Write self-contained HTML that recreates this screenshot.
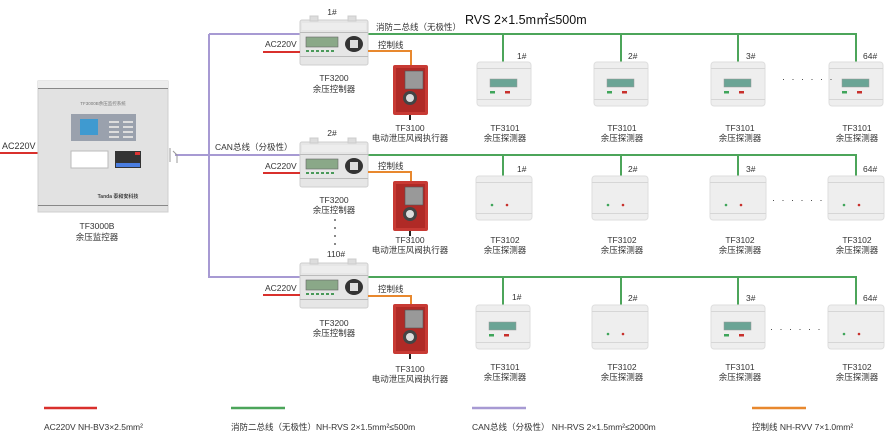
<!DOCTYPE html>
<html><head><meta charset="utf-8"><style>
html,body{margin:0;padding:0;background:#fff;}
svg{display:block;font-family:"Liberation Sans","Noto Sans CJK SC",sans-serif;}
.t{font-size:8.5px;fill:#333;}
.c{text-anchor:middle;}
</style></head><body>
<svg width="887" height="441" viewBox="0 0 887 441" xmlns="http://www.w3.org/2000/svg">
<defs>
<g id="ctrl">
 <rect x="0" y="0" width="68" height="45" rx="2" fill="#e6e6e6" stroke="#cfcfcf"/>
 <rect x="10" y="-4" width="8" height="5" fill="#ddd" stroke="#ccc"/>
 <rect x="48" y="-4" width="8" height="5" fill="#ddd" stroke="#ccc"/>
 <rect x="2" y="3" width="64" height="7" fill="#ededed"/>
 <rect x="0" y="12" width="68" height="1" fill="#bbb"/>
 <rect x="6" y="17" width="32" height="10" fill="#8aa888" stroke="#666" stroke-width="0.6"/>
 <g fill="#4a9a5a"><rect x="6" y="30" width="3" height="2"/><rect x="11" y="30" width="3" height="2"/><rect x="16" y="30" width="3" height="2"/><rect x="21" y="30" width="3" height="2"/><rect x="26" y="30" width="3" height="2"/><rect x="31" y="30" width="3" height="2"/></g>
 <ellipse cx="54" cy="24" rx="9" ry="8" fill="#333"/>
 <rect x="50" y="20" width="8" height="8" fill="#ddd"/>
 <rect x="0" y="36" width="68" height="1" fill="#bbb"/>
</g>
<g id="act">
 <rect x="0" y="0" width="35" height="50" rx="2" fill="#c83a34"/>
 <rect x="3" y="3" width="29" height="44" fill="#b02a26"/>
 <rect x="12" y="6" width="18" height="18" fill="#999" stroke="#555" stroke-width="0.6"/>
 <circle cx="17" cy="33" r="7" fill="#444"/>
 <circle cx="17" cy="33" r="4" fill="#ddd"/>
 <rect x="16" y="50" width="2" height="5" fill="#222"/>
</g>
<g id="det1">
 <rect x="0" y="0" width="54" height="44" rx="3" fill="#eeeeee" stroke="#dedede"/>
 <rect x="0" y="6" width="54" height="1" fill="#d6d6d6"/>
 <rect x="0" y="37" width="54" height="1" fill="#d6d6d6"/>
 <rect x="13" y="17" width="27" height="8" fill="#6aa495" stroke="#999" stroke-width="0.5"/>
 <rect x="13" y="29" width="5" height="2.5" fill="#3fa55a"/>
 <rect x="28" y="29" width="5" height="2.5" fill="#c8302c"/>
</g>
<g id="det2">
 <rect x="0" y="0" width="56" height="44" rx="3" fill="#eeeeee" stroke="#dedede"/>
 <rect x="0" y="6" width="56" height="1" fill="#d6d6d6"/>
 <rect x="0" y="37" width="56" height="1" fill="#d6d6d6"/>
 <circle cx="16" cy="29" r="1.3" fill="#3fa55a"/>
 <circle cx="31" cy="29" r="1.3" fill="#c8302c"/>
</g>
</defs>

<!-- AC left -->
<text x="2" y="149" class="t" style="font-size:9px">AC220V</text>
<line x1="0" y1="153" x2="38" y2="153" stroke="#d9302c" stroke-width="2"/>

<!-- cabinet -->
<rect x="38" y="81" width="130" height="131" fill="#e2e2e2" stroke="#cfcfcf"/>
<rect x="38" y="81" width="130" height="7" fill="#ededed"/>
<rect x="38" y="88" width="130" height="1" fill="#888"/>
<rect x="38" y="205" width="130" height="1" fill="#888"/>
<text x="103" y="105" class="c" style="font-size:4.5px;fill:#777">TF3000B余压监控系统</text>
<rect x="71" y="114" width="65" height="27" fill="#9aa1ad"/>
<rect x="80" y="119" width="18" height="16" fill="#3f9ad0"/>
<g fill="#ddd"><rect x="109" y="121" width="10" height="2"/><rect x="123" y="121" width="10" height="2"/><rect x="109" y="126" width="10" height="2"/><rect x="123" y="126" width="10" height="2"/><rect x="109" y="131" width="10" height="2"/><rect x="123" y="131" width="10" height="2"/><rect x="109" y="136" width="10" height="2"/><rect x="123" y="136" width="10" height="2"/></g>
<rect x="71" y="151" width="37" height="17" fill="#fff" stroke="#bbb"/>
<rect x="115" y="151" width="26" height="17" fill="#333"/>
<g fill="#4a7de0"><rect x="116" y="163" width="24" height="4"/></g>
<rect x="135" y="152" width="5" height="3" fill="#d33"/>
<text x="118" y="198" class="c" style="font-size:5px;font-weight:bold;fill:#444">Tanda 泰和安科技</text>
<text x="97" y="229" class="t c">TF3000B</text>
<text x="97" y="240" class="t c">余压监控器</text>

<!-- purple CAN -->
<path d="M175 155 H300 M209 34 V277 H300 M209 34 H300" stroke="#a79ad3" stroke-width="2" fill="none"/>
<path d="M170 148 v14 M173 151 l4 4 v8" stroke="#999" stroke-width="1" fill="none"/>
<text x="215" y="150" class="t">CAN总线（分极性）</text>

<!-- green buses -->
<g stroke="#4ca55a" stroke-width="2" fill="none">
<path d="M368 34 H856 V62 M503 34 V62 M621 34 V62 M738 34 V62"/>
<path d="M368 155 H856 V176 M503 155 V176 M621 155 V176 M738 155 V176"/>
<path d="M368 277 H856 V305 M503 277 V305 M621 277 V305 M738 277 V305"/>
</g>
<text x="376" y="30" class="t">消防二总线（无极性）</text>
<text x="465" y="24" style="font-size:12.5px;fill:#111">RVS  2×1.5m㎡≤500m</text>

<!-- rows of controllers -->
<g>
<text x="332" y="15" class="t c">1#</text>
<use href="#ctrl" x="300" y="20"/>
<text x="265" y="47" class="t">AC220V</text>
<line x1="263" y1="52" x2="300" y2="52" stroke="#d9302c" stroke-width="2"/>
<text x="378" y="48" class="t">控制线</text>
<path d="M368 51 H411 V68" stroke="#e8882e" stroke-width="2" fill="none"/>
<use href="#act" x="393" y="65"/>
<text x="334" y="81" class="t c">TF3200</text>
<text x="334" y="92" class="t c">余压控制器</text>
<text x="410" y="131" class="t c">TF3100</text>
<text x="410" y="141" class="t c">电动泄压风阀执行器</text>
</g>
<g>
<text x="332" y="136" class="t c">2#</text>
<use href="#ctrl" x="300" y="142"/>
<text x="265" y="169" class="t">AC220V</text>
<line x1="263" y1="173" x2="300" y2="173" stroke="#d9302c" stroke-width="2"/>
<text x="378" y="169" class="t">控制线</text>
<path d="M368 172 H411 V183" stroke="#e8882e" stroke-width="2" fill="none"/>
<use href="#act" x="393" y="181"/>
<text x="334" y="203" class="t c">TF3200</text>
<text x="334" y="213" class="t c">余压控制器</text>
<text x="410" y="243" class="t c">TF3100</text>
<text x="410" y="253" class="t c">电动泄压风阀执行器</text>
</g>
<g fill="#333"><circle cx="335" cy="220" r="0.9"/><circle cx="335" cy="228" r="0.9"/><circle cx="335" cy="236" r="0.9"/><circle cx="335" cy="244" r="0.9"/></g>
<g>
<text x="336" y="257" class="t c">110#</text>
<use href="#ctrl" x="300" y="263"/>
<text x="265" y="291" class="t">AC220V</text>
<line x1="263" y1="295" x2="300" y2="295" stroke="#d9302c" stroke-width="2"/>
<text x="378" y="292" class="t">控制线</text>
<path d="M368 296 H411 V306" stroke="#e8882e" stroke-width="2" fill="none"/>
<use href="#act" x="393" y="304"/>
<text x="334" y="326" class="t c">TF3200</text>
<text x="334" y="336" class="t c">余压控制器</text>
<text x="410" y="372" class="t c">TF3100</text>
<text x="410" y="382" class="t c">电动泄压风阀执行器</text>
</g>

<!-- detectors row1 -->
<use href="#det1" x="477" y="62"/><use href="#det1" x="594" y="62"/><use href="#det1" x="711" y="62"/><use href="#det1" x="829" y="62"/>
<text x="517" y="59" class="t">1#</text><text x="628" y="59" class="t">2#</text><text x="746" y="59" class="t">3#</text><text x="863" y="59" class="t">64#</text>
<text x="782" y="82" style="font-size:9px;fill:#333;letter-spacing:2px">· · · · · ·</text>
<text x="505" y="131" class="t c">TF3101</text><text x="505" y="141" class="t c">余压探测器</text>
<text x="622" y="131" class="t c">TF3101</text><text x="622" y="141" class="t c">余压探测器</text>
<text x="740" y="131" class="t c">TF3101</text><text x="740" y="141" class="t c">余压探测器</text>
<text x="857" y="131" class="t c">TF3101</text><text x="857" y="141" class="t c">余压探测器</text>
<!-- row2 -->
<use href="#det2" x="476" y="176"/><use href="#det2" x="592" y="176"/><use href="#det2" x="710" y="176"/><use href="#det2" x="828" y="176"/>
<text x="517" y="172" class="t">1#</text><text x="628" y="172" class="t">2#</text><text x="746" y="172" class="t">3#</text><text x="863" y="172" class="t">64#</text>
<text x="772" y="203" style="font-size:9px;fill:#333;letter-spacing:2px">· · · · · ·</text>
<text x="505" y="243" class="t c">TF3102</text><text x="505" y="253" class="t c">余压探测器</text>
<text x="622" y="243" class="t c">TF3102</text><text x="622" y="253" class="t c">余压探测器</text>
<text x="740" y="243" class="t c">TF3102</text><text x="740" y="253" class="t c">余压探测器</text>
<text x="857" y="243" class="t c">TF3102</text><text x="857" y="253" class="t c">余压探测器</text>
<!-- row3 -->
<use href="#det1" x="476" y="305"/><use href="#det2" x="592" y="305"/><use href="#det1" x="711" y="305"/><use href="#det2" x="828" y="305"/>
<text x="512" y="300" class="t">1#</text><text x="628" y="301" class="t">2#</text><text x="746" y="301" class="t">3#</text><text x="863" y="301" class="t">64#</text>
<text x="770" y="332" style="font-size:9px;fill:#333;letter-spacing:2px">· · · · · ·</text>
<text x="505" y="370" class="t c">TF3101</text><text x="505" y="380" class="t c">余压探测器</text>
<text x="622" y="370" class="t c">TF3102</text><text x="622" y="380" class="t c">余压探测器</text>
<text x="740" y="370" class="t c">TF3101</text><text x="740" y="380" class="t c">余压探测器</text>
<text x="857" y="370" class="t c">TF3102</text><text x="857" y="380" class="t c">余压探测器</text>

<!-- legend -->
<line x1="44" y1="408" x2="97" y2="408" stroke="#d9302c" stroke-width="2.5"/>
<line x1="231" y1="408" x2="285" y2="408" stroke="#4ca55a" stroke-width="2.5"/>
<line x1="472" y1="408" x2="526" y2="408" stroke="#a79ad3" stroke-width="2.5"/>
<line x1="752" y1="408" x2="806" y2="408" stroke="#e8882e" stroke-width="2.5"/>
<text x="44" y="430" class="t">AC220V  NH-BV3×2.5mm²</text>
<text x="231" y="430" class="t">消防二总线（无极性）NH-RVS 2×1.5mm²≤500m</text>
<text x="472" y="430" class="t">CAN总线（分极性）  NH-RVS 2×1.5mm²≤2000m</text>
<text x="752" y="430" class="t">控制线 NH-RVV 7×1.0mm²</text>
</svg>
</body></html>
